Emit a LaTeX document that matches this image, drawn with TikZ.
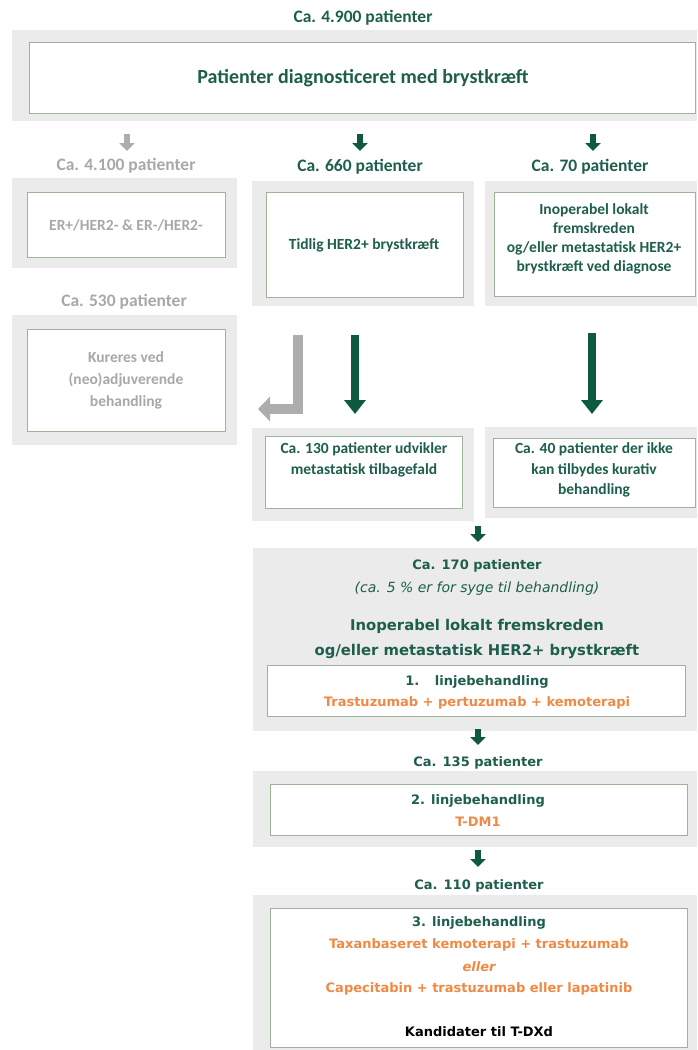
\documentclass[tikz,border=0pt]{standalone}
\usepackage{fontspec}
\setmainfont{Carlito}
\newfontfamily\verd{DejaVu Sans}
\usetikzlibrary{arrows.meta}
\definecolor{dgreen}{HTML}{1D5E4C}
\definecolor{agreen}{HTML}{0E5A3F}
\definecolor{lgray}{HTML}{EBEBEB}
\definecolor{tgray}{HTML}{A8A8A8}
\definecolor{agray}{HTML}{ADADAD}
\definecolor{bord}{HTML}{9DB39A}
\definecolor{orng}{HTML}{EE8A45}
\tikzset{
  panel/.style={fill=lgray, draw=none, anchor=north west, inner sep=0pt},
  wbox/.style={fill=white, draw=bord, line width=0.8pt, anchor=north west, inner sep=0pt},
  lbl/.style={text=dgreen, font=\fontsize{17.5}{20}\selectfont\bfseries},
  glbl/.style={text=tgray, font=\fontsize{17.5}{20}\selectfont\bfseries},
  btxt/.style={text=dgreen, align=center, font=\fontsize{15.5}{19}\selectfont\bfseries},
  gtxt/.style={text=tgray, align=center, font=\fontsize{15.5}{22}\selectfont\bfseries},
  vlbl/.style={text=dgreen, align=center, font=\verd\fontsize{13}{15}\selectfont\bfseries},
  otxt/.style={text=orng, align=center, font=\verd\fontsize{13}{15}\selectfont\bfseries},
  sarrow/.style={draw=agreen, line width=6pt, -{Triangle[width=15pt,length=8pt]}},
  garrow/.style={draw=agray, line width=6pt, -{Triangle[width=15pt,length=8pt]}},
  barrow/.style={draw=agreen, line width=8pt, -{Triangle[width=21pt,length=14pt]}},
}
\begin{document}
\begin{tikzpicture}[x=1pt,y=-1pt]
\useasboundingbox (0,0) rectangle (697,1050);
% top
\node[lbl] (n4900) at (363,18) {Ca. 4.900 patienter};
\node[panel, minimum width=685pt, minimum height=91pt] (p0) at (12,30) {};
\node[wbox, minimum width=666pt, minimum height=71pt] (b0) at (29,42) {};
\node[text=dgreen, font=\fontsize{20}{24}\selectfont\bfseries] (t0) at (363,78) {Patienter diagnosticeret med brystkræft};
% row 2 arrows and labels
\coordinate (a1s) at (127,134); \coordinate (a1e) at (127,151);
\coordinate (a2s) at (360,134); \coordinate (a2e) at (360,151);
\coordinate (a3s) at (593,134); \coordinate (a3e) at (593,151);
\draw[garrow] (a1s) -- (a1e);
\draw[sarrow] (a2s) -- (a2e);
\draw[sarrow] (a3s) -- (a3e);
\node[glbl] (n4100) at (126,166) {Ca. 4.100 patienter};
\node[lbl] (n660) at (360,167) {Ca. 660 patienter};
\node[lbl] (n70) at (590,167) {Ca. 70 patienter};
% row 2 panels
\node[panel, minimum width=225pt, minimum height=90pt] (p1) at (12,178) {};
\node[wbox, minimum width=198pt, minimum height=65pt] (b1) at (27,192) {};
\node[gtxt] (t1) at (126,225) {ER+/HER2- \& ER-/HER2-};
\node[panel, minimum width=222pt, minimum height=125pt] (p2) at (252,181) {};
\node[wbox, minimum width=197pt, minimum height=105pt] (b2) at (266,192) {};
\node[btxt] (t2) at (364,245) {Tidlig HER2+ brystkræft};
\node[panel, minimum width=212pt, minimum height=125pt] (p3) at (485,181) {};
\node[wbox, minimum width=201pt, minimum height=104pt] (b3) at (494,192) {};
\node[btxt] (t3) at (594,239) {Inoperabel lokalt\\fremskreden\\og/eller metastatisk HER2+\\brystkræft ved diagnose};
% row 3
\node[glbl] (n530) at (124,302) {Ca. 530 patienter};
\node[panel, minimum width=225pt, minimum height=130pt] (p4) at (12,315) {};
\node[wbox, minimum width=198pt, minimum height=102pt] (b4) at (27,329) {};
\node[gtxt] (t4) at (126,380) {Kureres ved\\(neo)adjuverende\\behandling};
\coordinate (g1) at (298,335); \coordinate (g2) at (258,409);
\draw[draw=agray, line width=10pt, line join=miter, -{Triangle[width=24pt,length=12pt]}] (g1) |- (g2);
\coordinate (m1) at (355,335); \coordinate (m2) at (355,414);
\draw[barrow] (m1) -- (m2);
\coordinate (r1) at (592,333); \coordinate (r2) at (592,414);
\draw[barrow] (r1) -- (r2);
\node[panel, minimum width=222pt, minimum height=93pt] (p5) at (252,428) {};
\node[wbox, minimum width=197pt, minimum height=72pt] (b5) at (265,436) {};
\node[btxt, font=\fontsize{15.5}{21.5}\selectfont\bfseries] (t5) at (364,460) {Ca. 130 patienter udvikler\\metastatisk tilbagefald};
\node[panel, minimum width=212pt, minimum height=91pt] (p6) at (485,427) {};
\node[wbox, minimum width=202pt, minimum height=69pt] (b6) at (493,438) {};
\node[btxt, font=\fontsize{15.5}{20.5}\selectfont\bfseries] (t6) at (594,470) {Ca. 40 patienter der ikke\\kan tilbydes kurativ\\behandling};
% big panel
\coordinate (s1) at (478,526); \coordinate (s2) at (478,542);
\draw[sarrow] (s1) -- (s2);
\node[panel, minimum width=444pt, minimum height=183pt] (p7) at (253,548) {};
\node[vlbl] (n170) at (477,566) {Ca. 170 patienter};
\node[text=dgreen, font=\verd\fontsize{14}{16}\selectfont\itshape] (t7a) at (477,589) {(ca. 5 \% er for syge til behandling)};
\node[text=dgreen, align=center, font=\verd\fontsize{14.8}{25}\selectfont\bfseries] (t7b) at (477,639) {Inoperabel lokalt fremskreden\\og/eller metastatisk HER2+ brystkræft};
\node[wbox, minimum width=418pt, minimum height=51pt] (b7) at (267,665) {};
\node[vlbl] (t7c) at (477,682) {1.\hspace{1.2em}linjebehandling};
\node[otxt] (t7d) at (477,703) {Trastuzumab + pertuzumab + kemoterapi};
% second line
\coordinate (s3) at (478,729); \coordinate (s4) at (478,745);
\draw[sarrow] (s3) -- (s4);
\node[vlbl] (n135) at (478,763) {Ca. 135 patienter};
\node[panel, minimum width=444pt, minimum height=76pt] (p8) at (253,771) {};
\node[wbox, minimum width=417pt, minimum height=51pt] (b8) at (270,784) {};
\node[vlbl] (t8a) at (478,801) {2. linjebehandling};
\node[otxt] (t8b) at (478,822) {T-DM1};
% third line
\coordinate (s5) at (478,850); \coordinate (s6) at (478,867);
\draw[sarrow] (s5) -- (s6);
\node[vlbl] (n110) at (479,886) {Ca. 110 patienter};
\node[panel, minimum width=444pt, minimum height=155pt] (p9) at (253,895) {};
\node[wbox, minimum width=417pt, minimum height=139pt] (b9) at (270,908) {};
\node[vlbl] (t9a) at (479,923) {3. linjebehandling};
\node[otxt] (t9b) at (479,945) {Taxanbaseret kemoterapi + trastuzumab};
\node[text=orng, font=\verd\fontsize{13}{15}\selectfont\bfseries\itshape] (t9c) at (479,967) {eller};
\node[otxt] (t9d) at (479,989) {Capecitabin + trastuzumab eller lapatinib};
\node[text=black, font=\verd\fontsize{13}{15}\selectfont\bfseries] (t9e) at (479,1032) {Kandidater til T-DXd};
\end{tikzpicture}
\end{document}
